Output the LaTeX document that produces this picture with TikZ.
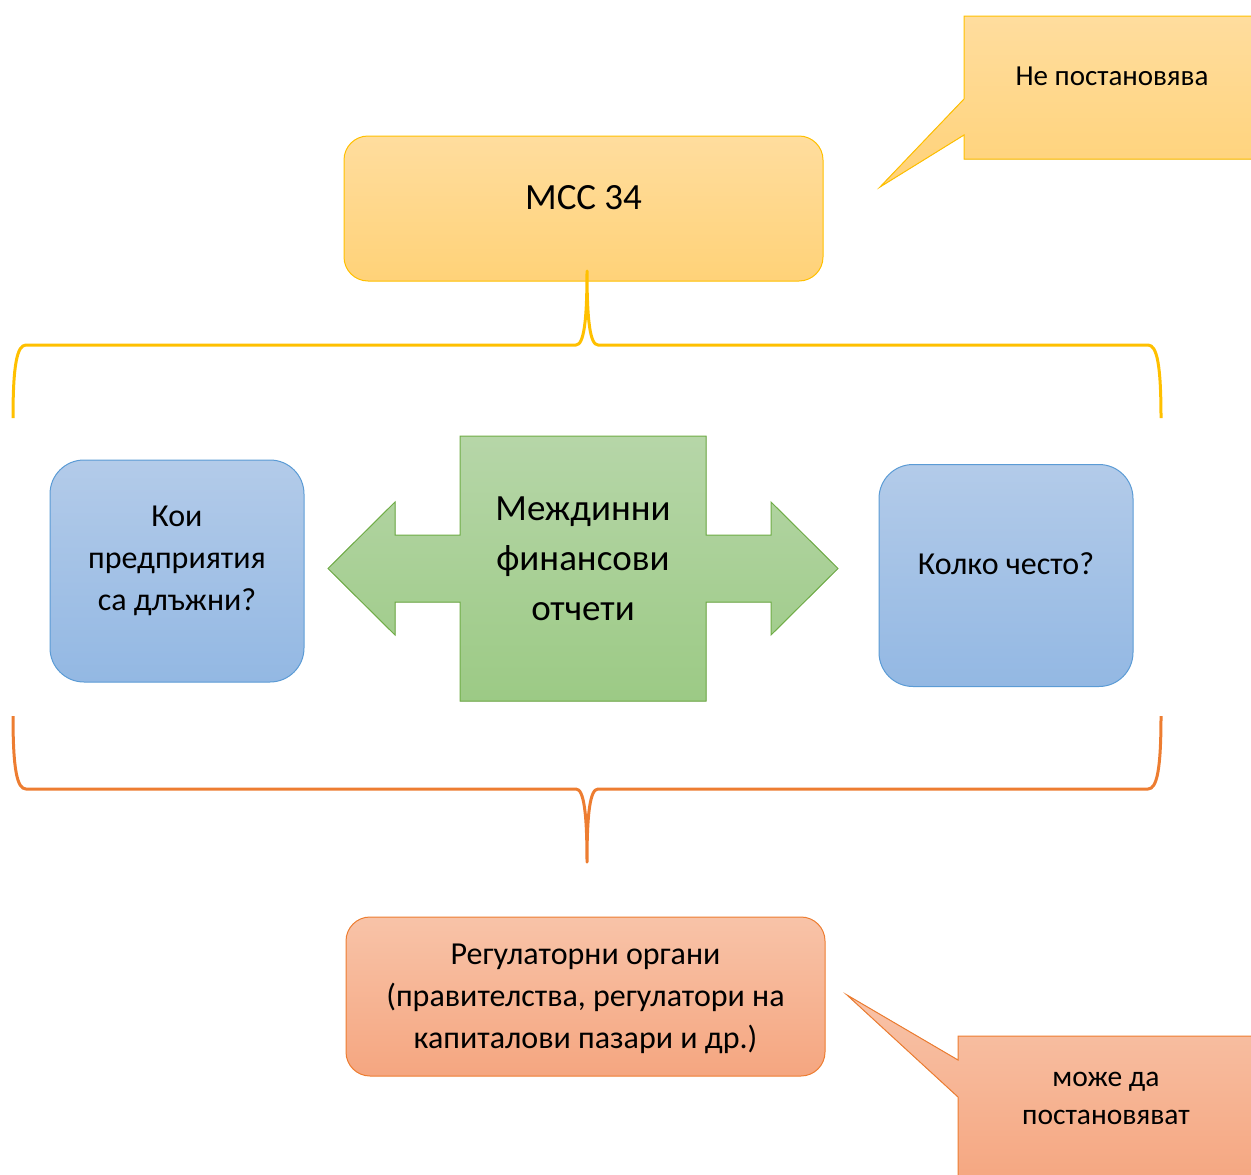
\documentclass[tikz,border=0pt]{standalone}
\usepackage{fontspec}
\setmainfont{Carlito}
\usetikzlibrary{positioning}

\definecolor{goldline}{HTML}{FFC000}
\definecolor{goldtop}{HTML}{FFDD9E}
\definecolor{goldbot}{HTML}{FFD278}
\definecolor{blueline}{HTML}{5B9BD5}
\definecolor{bluetop}{HTML}{B3CBE9}
\definecolor{bluebot}{HTML}{93B8E3}
\definecolor{greenline}{HTML}{70AD47}
\definecolor{greentop}{HTML}{B6D6A8}
\definecolor{greenbot}{HTML}{9CCA85}
\definecolor{orangeline}{HTML}{ED7D31}
\definecolor{orangetop}{HTML}{F8C3A8}
\definecolor{orangebot}{HTML}{F5A680}

\begin{document}
\begin{tikzpicture}
	[x=1pt, y=-1pt,
	goldbox/.style ={rectangle, draw=goldline, line width=1pt, top color=goldtop, bottom color=goldbot, rounded corners=24pt, minimum width=479pt, minimum height=145pt},
	bluebox/.style ={rectangle, draw=blueline, line width=1pt, top color=bluetop, bottom color=bluebot, rounded corners=34pt, minimum width=254pt, minimum height=222pt},
	orangebox/.style ={rectangle, draw=orangeline, line width=1pt, top color=orangetop, bottom color=orangebot, rounded corners=24pt, minimum width=479pt, minimum height=159pt},
	goldcall/.style ={draw=goldline, line width=1pt, top color=goldtop, bottom color=goldbot},
	orangecall/.style ={draw=orangeline, line width=1pt, top color=orangetop, bottom color=orangebot},
	greenarrow/.style ={draw=greenline, line width=1pt, top color=greentop, bottom color=greenbot},
	brace/.style ={line width=3pt, line join=round},
	txt/.style ={align=center, inner sep=0pt},
	]
	\useasboundingbox (0,0) rectangle (1251,1175);

	% boxes
	\draw (583.5,208.5) node[goldbox] (mcc) {};
	\draw (177,571) node[bluebox] (which) {};
	\draw (1006,575.5) node[bluebox] (often) {};
	\draw (585.5,996.5) node[orangebox] (regulators) {};

	% callouts
	\filldraw[goldcall] (964,16) -- (1262,16) -- (1262,159) -- (964,159) -- (964,135) -- (880,187) -- (964,99) -- cycle;
	\filldraw[orangecall] (958,1036) -- (1262,1036) -- (1262,1185) -- (958,1185) -- (958,1097) -- (847,995) -- (958,1060) -- cycle;

	% double arrow
	\filldraw[greenarrow] (460,436) -- (706,436) -- (706,535) -- (771,535) -- (771,502) -- (838,568.5) -- (771,635) -- (771,602) -- (706,602) -- (706,701) -- (460,701) -- (460,602) -- (395,602) -- (395,635) -- (328,568.5) -- (395,502) -- (395,535) -- (460,535) -- cycle;

	% braces
	\coordinate (top-tip) at (587,271);
	\coordinate (bottom-tip) at (587,862);
	\draw[brace, draw=goldline] (13,418) .. controls (13,365) and (17,345) .. (26,345) -- (576,345) .. controls (584,345) and (587,320) .. (top-tip) .. controls (587,320) and (590,345) .. (598,345) -- (1148,345) .. controls (1157,345) and (1161,365) .. (1161,418);
	\draw[brace, draw=orangeline] (13,716) .. controls (13,769) and (17,789) .. (26,789) -- (576,789) .. controls (584,789) and (587,814) .. (bottom-tip) .. controls (587,814) and (590,789) .. (598,789) -- (1148,789) .. controls (1157,789) and (1161,769) .. (1161,716);

	% texts
	\draw (583.5,198) node[txt, font=\fontsize{37}{44}\selectfont] (mcc-text) {МСС 34};
	\draw (1112,76) node[txt, font=\fontsize{29}{35}\selectfont] (no-rule) {Не постановява};
	\draw (177,560.5) node[txt, font=\fontsize{32}{42}\selectfont] (which-text) {Кои\\предприятия\\са длъжни?};
	\draw (1006,564) node[txt, font=\fontsize{32}{38}\selectfont] (often-text) {Колко често?};
	\draw (583,558.5) node[txt, font=\fontsize{37}{50}\selectfont] (interim) {Междинни\\финансови\\отчети};
	\draw (585.5,999) node[txt, font=\fontsize{32}{42}\selectfont] (regulators-text) {Регулаторни органи\\(правителства, регулатори на\\капиталови пазари и др.)};
	\draw (1106,1098) node[txt, font=\fontsize{29.5}{38}\selectfont] (may-rule) {може да\\постановяват};
\end{tikzpicture}
\end{document}
